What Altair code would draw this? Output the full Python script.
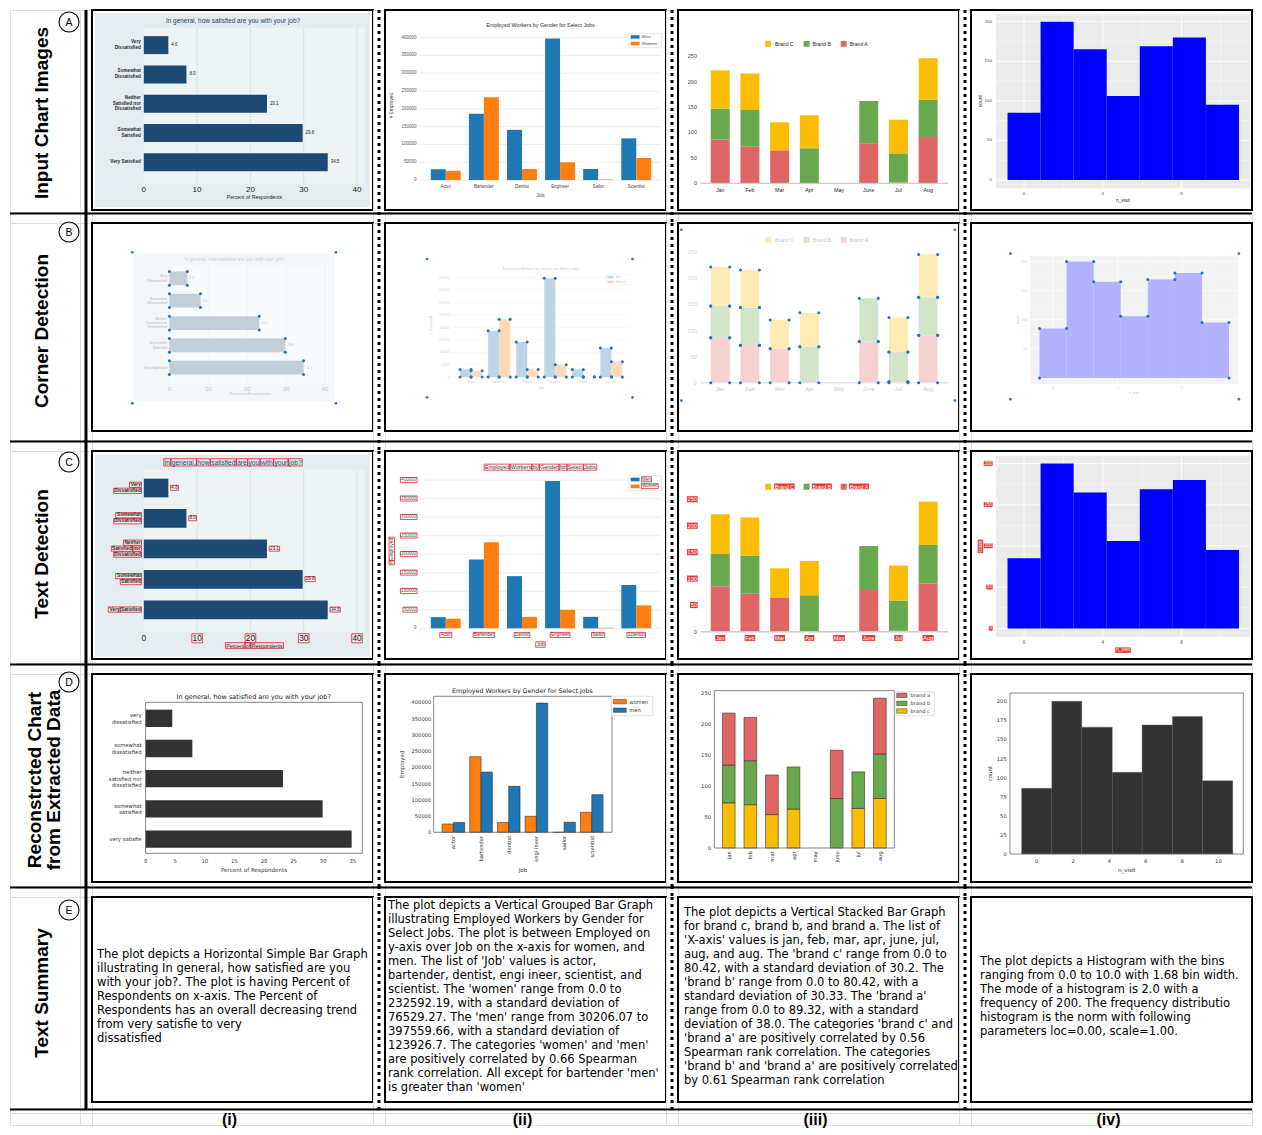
import altair as alt
import pandas as pd

# ====================== chart values ======================
SAT_TITLE = "In general, how satisfied are you with your job?"
SAT_CATS = ["Very\nDissatisfied", "Somewhat\nDissatisfied", "Neither\nSatisfied nor\nDissatisfied",
            "Somewhat\nSatisfied", "Very Satisfied"]
SAT_VALS = [4.6, 8.0, 23.1, 29.8, 34.5]
SAT_TICKS = [0, 10, 20, 30, 40]

JOB_TITLE = "Employed Workers by Gender for Select Jobs"
JOBS = ["Actor", "Bartender", "Dentist", "Engineer", "Sailor", "Scientist"]
JOB_MEN = [30206, 186000, 141000, 397560, 31000, 117000]
JOB_WOMEN = [26000, 232592, 31000, 50000, 1500, 62000]
JOB_TICKS = [0, 50000, 100000, 150000, 200000, 250000, 300000, 350000, 400000]
JOB_SERIES = ["Men", "Women"]

MONTHS = ["Jan", "Feb", "Mar", "Apr", "May", "June", "Jul", "Aug"]
BRAND_A = [86, 72, 65, 0, 0, 79, 2, 91]
BRAND_B = [61, 72, 0, 69, 0, 83, 57, 73]
BRAND_C = [75, 72, 55, 65, 0, 0, 66, 82]
BRAND_TICKS = [0, 50, 100, 150, 200, 250]
BRAND_NAMES = ["Brand C", "Brand B", "Brand A"]

HIST_EDGES = [-0.84, 0.84, 2.52, 4.20, 5.88, 7.56, 9.24, 10.92]
HIST_COUNTS = [85, 200, 165, 106, 169, 180, 95]
HIST_XTICKS = [0, 4, 8]
HIST_XMINOR = [2, 6, 10]
HIST_YTICKS = [0, 50, 100, 150, 200]
HIST_YMINOR = [25, 75, 125, 175]

REC_SAT_CATS = ["very\ndissatisfied", "somewhat\ndissatisfied", "neither\nsatisfied nor\ndissatisfied",
                "somewhat\nsatisfied", "very satisfie"]
REC_SAT_VALS = [4.5, 7.9, 23.2, 29.9, 34.8]
REC_SAT_TICKS = [0, 5, 10, 15, 20, 25, 30, 35]

REC_JOBS = ["actor", "bartender", "dentist", "engi ineer", "sailor", "scientist"]
REC_WOMEN = [25500, 232592, 30000, 49200, 0, 61500]
REC_MEN = [30206, 185500, 141500, 397560, 31000, 115700]
REC_JOB_SERIES = ["women", "men"]

REC_MONTHS = ["jan", "feb", "mar", "apr", "may", "june", "jul", "aug"]
REC_A = [84, 70, 64, 0, 0, 78, 0, 90]
REC_B = [61, 71, 0, 68, 0, 80, 59, 72]
REC_C = [73, 70, 54, 63, 0, 0, 64, 80]
REC_BRAND_NAMES = ["brand a", "brand b", "brand c"]

REC_EDGES = [-0.83, 0.83, 2.48, 4.16, 5.80, 7.47, 9.12, 10.79]
REC_COUNTS = [86, 200, 166, 107, 169, 180, 96]
REC_HIST_XTICKS = [0, 2, 4, 6, 8, 10]
REC_HIST_YTICKS = [0, 25, 50, 75, 100, 125, 150, 175, 200]

SUM_I = ["The plot depicts a Horizontal Simple Bar Graph",
         "illustrating In general, how satisfied are you",
         "with your job?. The plot is having Percent of",
         "Respondents on x-axis. The Percent of",
         "Respondents has an overall decreasing trend",
         "from very satisfie to very",
         "dissatisfied"]
SUM_II = ["The plot depicts a Vertical Grouped Bar Graph",
          "illustrating Employed Workers by Gender for",
          "Select Jobs. The plot is between Employed on",
          "y-axis over Job on the x-axis for women, and",
          "men. The list of 'Job' values is actor,",
          "bartender, dentist, engi ineer, scientist, and",
          "scientist. The 'women' range from 0.0 to",
          "232592.19, with a standard deviation of",
          "76529.27. The 'men' range from 30206.07 to",
          "397559.66, with a standard deviation of",
          "123926.7. The categories 'women' and 'men'",
          "are positively correlated by 0.66 Spearman",
          "rank correlation. All except for bartender 'men'",
          "is greater than 'women'"]
SUM_III = ["The plot depicts a Vertical Stacked Bar Graph",
           "for brand c, brand b, and brand a. The list of",
           "'X-axis' values is jan, feb, mar, apr, june, jul,",
           "aug, and aug. The 'brand c' range from 0.0 to",
           "80.42, with a standard deviation of 30.2. The",
           "'brand b' range from 0.0 to 80.42, with a",
           "standard deviation of 30.33. The 'brand a'",
           "range from 0.0 to 89.32, with a standard",
           "deviation of 38.0. The categories 'brand c' and",
           "'brand a' are positively correlated by 0.56",
           "Spearman rank correlation. The categories",
           "'brand b' and 'brand a' are positively correlated",
           "by 0.61 Spearman rank correlation"]
SUM_IV = ["The plot depicts a Histogram with the bins",
          "ranging from 0.0 to 10.0 with 1.68 bin width.",
          "The mode of a histogram is 2.0 with a",
          "frequency of 200. The frequency distributio",
          "histogram is the norm with following",
          "parameters loc=0.00, scale=1.00."]

ROW_LABELS = ["Input Chart Images", "Corner Detection", "Text Detection",
              "Reconstrcted Chart\nfrom Extracted Data", "Text Summary"]
ROW_LETTERS = ["A", "B", "C", "D", "E"]
COL_LABELS = ["(i)", "(ii)", "(iii)", "(iv)"]

# ====================== layout / style ======================
FONT = "Liberation Sans, Arial, Helvetica, sans-serif"
MPL = "DejaVu Sans, Verdana, sans-serif"
NARROW = "Liberation Sans Narrow, Arial Narrow, Liberation Sans, sans-serif"

W = 281
PANEL_H = [200, 208, 208, 208, 205]
ROW_H = [202, 217, 212, 212, 211]
LABEL_CY = [103, 108, 103, 106, 96]
CIRCLE_Y = [12, 9, 11, 8, 13]
HL = 11
HL_LAST = 5
LABEL_W = 70
SEP_W = 12

CW = {' ': .278, '.': .278, ',': .278, '?': .556, '#': .556, '_': .556, "'": .191,
      'a': .556, 'b': .556, 'c': .5, 'd': .556, 'e': .556, 'f': .278, 'g': .556, 'h': .556,
      'i': .222, 'j': .222, 'k': .5, 'l': .222, 'm': .833, 'n': .556, 'o': .556, 'p': .556,
      'q': .556, 'r': .333, 's': .5, 't': .278, 'u': .556, 'v': .5, 'w': .722, 'x': .5,
      'y': .5, 'z': .5, 'A': .667, 'B': .667, 'C': .722, 'D': .722, 'E': .667, 'F': .611,
      'G': .778, 'H': .722, 'I': .278, 'J': .5, 'K': .667, 'L': .556, 'M': .833, 'N': .722,
      'O': .778, 'P': .667, 'Q': .778, 'R': .722, 'S': .667, 'T': .611, 'U': .722, 'V': .667,
      'W': .944, 'X': .667, 'Y': .667, 'Z': .611}


def text_w(s, fs, bold=False):
    t = 0.0
    for ch in s:
        t += 0.556 if ch.isdigit() else CW.get(ch, 0.556)
    return t * fs * (1.08 if bold else 1.0)


def fade(col, f=0.72):
    col = col.lstrip('#')
    rgb = [int(col[i:i + 2], 16) for i in (0, 2, 4)]
    return '#%02x%02x%02x' % tuple(int(round(c + (255 - c) * f)) for c in rgb)


def box_path(it):
    fs, bold = it['fs'], it['bold']
    lines = it['text'].split('\n')
    lh = it['lh'] or fs * 1.2
    spw = text_w(' ', fs, bold)
    parts = []
    for j, line in enumerate(lines):
        cy = j * lh
        lw = text_w(line, fs, bold)
        pos = {'left': 0.0, 'center': -lw / 2.0, 'right': -lw}[it['align']]
        for word in line.split(' '):
            ww = text_w(word, fs, bold)
            a0, a1 = pos - 0.7, pos + ww + 0.7
            b0, b1 = cy - fs * 0.6, cy + fs * 0.5
            if it['angle'] == 270:
                x0, x1, y0, y1 = b0, b1, -a1, -a0
            else:
                x0, x1, y0, y1 = a0, a1, b0, b1
            parts.append("M%.2f,%.2fH%.2fV%.2fH%.2fZ" % (x0, y0, x1, y1, x0))
            pos += ww + spw
    return "".join(parts)


class Lin:
    def __init__(self, d0, d1, r0, r1):
        self.d0, self.d1, self.r0, self.r1 = float(d0), float(d1), float(r0), float(r1)

    def px(self, d):
        return self.r0 + (d - self.d0) * (self.r1 - self.r0) / (self.d1 - self.d0)

    def dat(self, p):
        return self.d0 + (p - self.r0) * (self.d1 - self.d0) / (self.r1 - self.r0)

    def scale(self):
        return alt.Scale(domain=[self.d0, self.d1], range=[round(self.r0, 2), round(self.r1, 2)],
                         nice=False, zero=False)


class Panel:
    def __init__(self, xs, ys, H, mode):
        self.xs, self.ys, self.H, self.mode = xs, ys, H, mode
        self.fd = mode == 'B'
        self.boxing = mode == 'C'
        self.box_fill = None
        self.layers, self.items = [], []

    def c(self, col, f=0.72):
        return fade(col, f) if self.fd else col

    def enc(self, xa=None, ya=None, x2=False, y2=False):
        e = {'x': alt.X('x:Q', scale=self.xs.scale(), axis=xa),
             'y': alt.Y('y:Q', scale=self.ys.scale(), axis=ya)}
        if x2:
            e['x2'] = alt.X2('x2')
        if y2:
            e['y2'] = alt.Y2('y2')
        return e

    def rect(self, x, x2, y, y2, color, **kw):
        df = pd.DataFrame({'x': x, 'x2': x2, 'y': y, 'y2': y2})
        self.layers.append(alt.Chart(df).mark_rect(color=color, **kw).encode(**self.enc(x2=True, y2=True)))

    def prect(self, px0, px1, py0, py1, color, **kw):
        self.rect([self.xs.dat(px0)], [self.xs.dat(px1)], [self.ys.dat(py0)], [self.ys.dat(py1)], color, **kw)

    def rule(self, x, x2, y, y2, color, sw, **kw):
        df = pd.DataFrame({'x': x, 'x2': x2, 'y': y, 'y2': y2})
        self.layers.append(alt.Chart(df).mark_rule(color=color, strokeWidth=sw, **kw)
                           .encode(**self.enc(x2=True, y2=True)))

    def axes(self, xaxis=None, yaxis=None):
        df = pd.DataFrame({'x': [self.xs.d0], 'y': [self.ys.d0]})
        xa = alt.Axis(labels=False, title=None, grid=False, **xaxis) if xaxis else None
        ya = alt.Axis(labels=False, title=None, grid=False, **yaxis) if yaxis else None
        self.layers.append(alt.Chart(df).mark_point(opacity=0, size=1).encode(**self.enc(xa, ya)))

    def dots(self, pts, size=9):
        df = pd.DataFrame({'x': [p[0] for p in pts], 'y': [p[1] for p in pts]})
        self.layers.append(alt.Chart(df).mark_point(filled=True, color='#1f77b4', size=size, opacity=1)
                           .encode(**self.enc()))

    def pdots(self, pts, size=9):
        self.dots([(self.xs.dat(a), self.ys.dat(b)) for a, b in pts], size)

    def item(self, text, px, py, fs, align='center', color='#222222', bold=False, angle=0, lh=None,
             box=True, font=FONT):
        n = text.count('\n') + 1
        if n > 1:
            L = lh or fs * 1.2
            if angle == 270:
                px -= (n - 1) / 2.0 * L
            else:
                py -= (n - 1) / 2.0 * L
        self.items.append(dict(text=text, px=px, py=py, fs=fs, align=align, color=self.c(color, 0.75),
                               bold=bold, angle=angle, lh=lh, box=box and self.boxing, font=font))

    def finish(self):
        boxed = [it for it in self.items if it['box']]
        if boxed:
            df = pd.DataFrame({'x': [self.xs.dat(it['px']) for it in boxed],
                               'y': [self.ys.dat(it['py']) for it in boxed],
                               'path': [box_path(it) for it in boxed]})
            if self.box_fill:
                mk = alt.Chart(df).mark_point(filled=True, color=self.box_fill, size=4, opacity=1, strokeWidth=0)
            else:
                mk = alt.Chart(df).mark_point(filled=False, color='#e8141c', size=4, opacity=1, strokeWidth=0.75)
            self.layers.append(mk.encode(**self.enc(), shape=alt.Shape('path:N', scale=None)))
        groups = {}
        for it in self.items:
            key = (it['align'], it['bold'], it['lh'], it['font'])
            col = '#ffffff' if (it['box'] and self.box_fill) else it['color']
            groups.setdefault(key, []).append({'x': self.xs.dat(it['px']), 'y': self.ys.dat(it['py']),
                                               'text': it['text'], 'fs': round(it['fs'], 2),
                                               'col': col, 'ang': it['angle']})
        for (al, bold, lh, font), rows in groups.items():
            kw = dict(align=al, baseline='middle', font=font, lineBreak='\n')
            if bold:
                kw['fontWeight'] = 'bold'
            if lh:
                kw['lineHeight'] = round(lh, 2)
            self.layers.append(alt.Chart(pd.DataFrame(rows)).mark_text(**kw).encode(
                **self.enc(), text='text:N', size=alt.Size('fs:Q', scale=None),
                color=alt.Color('col:N', scale=None), angle=alt.Angle('ang:Q', scale=None)))

    def chart(self):
        self.finish()
        return alt.layer(*self.layers).properties(
            width=W, height=self.H, view=alt.ViewBackground(fill='white', stroke='black', strokeWidth=2))


def geom(tf):
    sx, sy, ox, oy = tf
    return (lambda u: ox + sx * u), (lambda v: oy + sy * v), min(sx, sy)


def corner_dots(p, X, Y, corners):
    if corners is None:
        corners = [(X(1), Y(1)), (X(281), Y(1)), (X(1), Y(204)), (X(281), Y(204))]
    p.pdots(corners, 7)


# ---------------- chart (i): horizontal bars ----------------
def chart_sat(mode, tf, H, corners=None):
    X, Y, k = geom(tf)
    xs = Lin(0, 41.5, X(52), X(274))
    ys = Lin(-0.6, 4.733, Y(18), Y(178))
    p = Panel(xs, ys, H, mode)
    p.prect(X(3), X(279), Y(3), Y(202), p.c('#e4ecf0', 0.6))
    p.rect([0], [41.5], [-0.6], [4.733], p.c('#eef3f6', 0.6))
    g = SAT_TICKS[1:]
    p.rule(g, g, [-0.6] * len(g), [4.733] * len(g), p.c('#d3dde4', 0.6), 0.7)
    n = len(SAT_VALS)
    idx = list(range(n))
    hb = 0.307
    p.rect([0] * n, SAT_VALS, [i - hb for i in idx], [i + hb for i in idx], p.c('#1d4a73', 0.73))
    ax = p.c('#8796a3', 0.6)
    p.axes(xaxis=dict(orient='bottom', offset=round(Y(178) - H, 2), values=SAT_TICKS,
                      tickSize=round(2.2 * k, 2), tickColor=ax, domainColor=ax, domainWidth=0.8, tickWidth=0.8),
           yaxis=dict(orient='left', offset=round(-X(52), 2), ticks=False, domainColor=ax, domainWidth=0.8))
    p.item(SAT_TITLE, X(141.5), Y(11), 6.6 * k, color='#1f3f66')
    for i, (lab, v) in enumerate(zip(SAT_CATS, SAT_VALS)):
        p.item(lab, X(49), ys.px(i), 4.8 * k, align='right', bold=True, lh=6 * k, color='#2a2a2a')
        p.item("%.1f" % v, xs.px(v) + 3 * k, ys.px(i), 4.6 * k, align='left', color='#222222')
    for t in SAT_TICKS:
        p.item(str(t), xs.px(t), Y(184.5), 8.3 * k, color='#222222', box=t != 0)
    p.item("Percent of Respondents", X(163), Y(191.5), 5.3 * k, color='#222222')
    if p.fd:
        pts = []
        for i, v in enumerate(SAT_VALS):
            for xx in (0, v):
                for yy in (i - hb, i + hb):
                    pts.append((xx, yy))
        p.dots(pts)
        corner_dots(p, X, Y, corners)
    return p.chart()


# ---------------- chart (ii): grouped bars ----------------
def chart_grp(mode, tf, H, corners=None):
    X, Y, k = geom(tf)
    xs = Lin(-0.68, 5.65, X(35), X(277))
    ys = Lin(0, 420000, Y(174.3), Y(20.95))
    p = Panel(xs, ys, H, mode)
    nt = len(JOB_TICKS)
    p.rule([-0.68] * nt, [5.65] * nt, JOB_TICKS, JOB_TICKS, p.c('#e6e6e6', 0.6), 0.7)
    n = len(JOBS)
    idx = list(range(n))
    bw = 0.393
    cols = ['#1f77b4', '#ff7f0e']
    p.rect([i - bw for i in idx], idx, [0] * n, JOB_MEN, p.c(cols[0], 0.7))
    p.rect(idx, [i + bw for i in idx], [0] * n, JOB_WOMEN, p.c(cols[1], 0.7))
    p.item(JOB_TITLE, X(156), Y(15.7), 5.5 * k, color='#333333')
    for t in JOB_TICKS:
        p.item(str(t), X(31.5), ys.px(t), 4.6 * k, align='right', color='#555555', box=t != 0)
    for i, j in enumerate(JOBS):
        p.item(j, xs.px(i), Y(181), 4.6 * k, color='#444444')
    p.item('Job', X(156), Y(190.5), 5 * k, color='#444444')
    p.item('# Employed', X(7), Y(98), 5 * k, color='#444444', angle=270)
    p.prect(X(244), X(277.5), Y(24), Y(38.5), '#ffffff', stroke=p.c('#d5d5d5', 0.6), strokeWidth=0.5)
    for s, (name, col) in enumerate(zip(JOB_SERIES, cols)):
        vy = 27.6 + s * 6.8
        p.prect(X(246.5), X(255.5), Y(vy - 1.8), Y(vy + 1.8), p.c(col, 0.7))
        p.item(name, X(258), Y(vy), 4.5 * k, align='left', color='#444444')
    if p.fd:
        pts = []
        for i in idx:
            for x0, x1, v in ((i - bw, i, JOB_MEN[i]), (i, i + bw, JOB_WOMEN[i])):
                pts += [(x0, 0), (x1, 0), (x0, v), (x1, v)]
        p.dots(pts)
        corner_dots(p, X, Y, corners)
    return p.chart()


# ---------------- chart (iii): stacked bars ----------------
def chart_stk(mode, tf, H, corners=None):
    X, Y, k = geom(tf)
    xs = Lin(-0.65, 7.67, X(23), X(271))
    ys = Lin(0, 260, Y(177.7), Y(177.7 - 260 * 0.5216))
    p = Panel(xs, ys, H, mode)
    p.box_fill = '#e53935'
    n = len(MONTHS)
    hw = 0.319
    series = [(BRAND_A, '#e06666'), (BRAND_B, '#6aa84f'), (BRAND_C, '#fbbc04')]
    base = [0] * n
    pts = []
    for vals, col in series:
        xi = [i for i in range(n) if vals[i] > 0]
        p.rect([i - hw for i in xi], [i + hw for i in xi], [base[i] for i in xi],
               [base[i] + vals[i] for i in xi], p.c(col, 0.7))
        for i in xi:
            pts += [(i - hw, base[i]), (i + hw, base[i]), (i - hw, base[i] + vals[i]), (i + hw, base[i] + vals[i])]
        base = [base[i] + vals[i] for i in range(n)]
    p.rule([-0.65], [7.67], [0], [0], p.c('#cccccc', 0.5), 1.5 * k)
    for t in BRAND_TICKS:
        p.item(str(t), X(19), ys.px(t), 5.6 * k, align='right', color='#444444', box=t != 0)
    for i, m in enumerate(MONTHS):
        p.item(m, xs.px(i), Y(184), 5.4 * k, color='#222222')
    leg_cols = ['#fbbc04', '#6aa84f', '#e06666']
    sym_u = [90.5, 129, 166.3]
    lab_u = [97.3, 135, 172.3]
    for s, (name, col) in enumerate(zip(BRAND_NAMES, leg_cols)):
        p.prect(X(sym_u[s] - 3), X(sym_u[s] + 3), Y(31.7), Y(37.7), p.c(col, 0.7))
        p.item(name, X(lab_u[s]), Y(34.7), 5.2 * k, align='left', color='#222222')
    if p.fd:
        p.dots(pts)
        corner_dots(p, X, Y, corners)
    return p.chart()


# ---------------- chart (iv): histogram ----------------
def chart_hist(mode, tf, H, corners=None):
    X, Y, k = geom(tf)
    xs = Lin(-1.43, 11.48, X(25), X(280))
    ys = Lin(-10.3, 209.4, Y(182.7), Y(4.3))
    p = Panel(xs, ys, H, mode)
    p.box_fill = '#e53935'
    p.rect([-1.43], [11.48], [-10.3], [209.4], '#f3f3f3' if p.fd else '#ebebeb')
    p.rule(HIST_XMINOR, HIST_XMINOR, [-10.3] * 3, [209.4] * 3, '#ffffff', 0.45 * k)
    p.rule([-1.43] * 4, [11.48] * 4, HIST_YMINOR, HIST_YMINOR, '#ffffff', 0.45 * k)
    p.rule(HIST_XTICKS, HIST_XTICKS, [-10.3] * 3, [209.4] * 3, '#ffffff', 0.9 * k)
    p.rule([-1.43] * 5, [11.48] * 5, HIST_YTICKS, HIST_YTICKS, '#ffffff', 0.9 * k)
    nb = len(HIST_COUNTS)
    p.rect(HIST_EDGES[:-1], HIST_EDGES[1:], [0] * nb, HIST_COUNTS, p.c('#0000ff', 0.7))
    tc = p.c('#333333', 0.7)
    p.axes(xaxis=dict(orient='bottom', offset=round(Y(182.7) - H, 2), values=HIST_XTICKS,
                      tickSize=round(2.2 * k, 2), tickColor=tc, tickWidth=0.6, domain=False),
           yaxis=dict(orient='left', offset=round(-X(25), 2), values=HIST_YTICKS,
                      tickSize=round(2.2 * k, 2), tickColor=tc, tickWidth=0.6, domain=False))
    for t in HIST_YTICKS:
        p.item(str(t), X(21), ys.px(t), 4.5 * k, align='right', color='#4d4d4d')
    for t in HIST_XTICKS:
        p.item(str(t), xs.px(t), Y(188.3), 4.5 * k, color='#4d4d4d', box=False)
    p.item('count', X(9.7), Y(93.5), 5 * k, color='#222222', angle=270)
    p.item('n_visit', X(152.5), Y(196), 5 * k, color='#222222')
    if p.fd:
        pts = [(HIST_EDGES[0], 0), (HIST_EDGES[-1], 0)]
        for i, cnt in enumerate(HIST_COUNTS):
            pts += [(HIST_EDGES[i], cnt), (HIST_EDGES[i + 1], cnt)]
        p.dots(pts)
        corner_dots(p, X, Y, corners)
    return p.chart()


# ---------------- row D: reconstructed (matplotlib look) ----------------
def rec_sat(H):
    xs = Lin(0, 36.6, 53.6, 270.3)
    ys = Lin(-0.53, 4.47, 28.3, 179.3)
    p = Panel(xs, ys, H, 'D')
    n = len(REC_SAT_VALS)
    idx = list(range(n))
    hb = 0.287
    p.rect([0] * n, REC_SAT_VALS, [i - hb for i in idx], [i + hb for i in idx], '#333333')
    p.rect([0], [36.6], [-0.53], [4.47], '#666666', filled=False, strokeWidth=0.8)
    p.axes(xaxis=dict(orient='bottom', offset=round(179.3 - H, 2), values=REC_SAT_TICKS, tickSize=2.4,
                      tickColor='#444444', tickWidth=0.6, domain=False),
           yaxis=dict(orient='left', offset=-53.6, values=idx, tickSize=2.4, tickColor='#444444',
                      tickWidth=0.6, domain=False))
    p.item(SAT_TITLE, 161.7, 23.3, 6.5, color='#222222', font=MPL)
    for i, lab in enumerate(REC_SAT_CATS):
        p.item(lab, 49.6, ys.px(i), 5.3, align='right', lh=6.6, color='#333333', font=MPL)
    for t in REC_SAT_TICKS:
        p.item(str(t), xs.px(t), 187.3, 5.3, color='#333333', font=MPL)
    p.item('Percent of Respondents', 162, 196.3, 5.6, color='#333333', font=MPL)
    return p.chart()


def rec_grp(H):
    xs = Lin(-0.71, 5.73, 48.7, 227)
    ys = Lin(0, 418460, 158.3, 22.3)
    p = Panel(xs, ys, H, 'D')
    n = len(REC_JOBS)
    idx = list(range(n))
    bw = 0.408
    cols = ['#ff7f0e', '#1f77b4']
    p.rect([i - bw for i in idx], idx, [0] * n, REC_WOMEN, cols[0], stroke='#333333', strokeWidth=0.6)
    p.rect(idx, [i + bw for i in idx], [0] * n, REC_MEN, cols[1], stroke='#333333', strokeWidth=0.6)
    p.rect([-0.71], [5.73], [0], [418460], '#666666', filled=False, strokeWidth=0.8)
    p.axes(xaxis=dict(orient='bottom', offset=round(158.3 - H, 2), values=idx, tickSize=2.4,
                      tickColor='#444444', tickWidth=0.6, domain=False),
           yaxis=dict(orient='left', offset=-48.7, values=JOB_TICKS, tickSize=2.4, tickColor='#444444',
                      tickWidth=0.6, domain=False))
    p.item(JOB_TITLE, 137.5, 16.7, 6.3, color='#222222', font=MPL)
    for t in JOB_TICKS:
        p.item(str(t), 46.3, ys.px(t), 5.2, align='right', color='#333333', font=MPL)
    for i, j in enumerate(REC_JOBS):
        p.item(j, xs.px(i), 161.8, 5.2, align='right', angle=270, color='#333333', font=MPL)
    p.item('Job', 137.9, 196.3, 5.5, color='#333333', font=MPL)
    p.item('Employed', 17, 90.3, 5.5, angle=270, color='#333333', font=MPL)
    p.prect(226.3, 267.7, 22.3, 41.7, '#ffffff', stroke='#cccccc', strokeWidth=0.6)
    for s, (name, col) in enumerate(zip(REC_JOB_SERIES, cols)):
        vy = 27.6 + s * 8.6
        p.prect(228.3, 241.3, vy - 2.2, vy + 2.2, col, stroke='#333333', strokeWidth=0.5)
        p.item(name, 244.2, vy, 5.2, align='left', color='#333333', font=MPL)
    return p.chart()


def rec_stk(H):
    xs = Lin(-0.67, 7.67, 36.3, 216.3)
    ys = Lin(0, 254.2, 174, 16.7)
    p = Panel(xs, ys, H, 'D')
    n = len(REC_MONTHS)
    hw = 0.294
    series = [(REC_C, '#fbbc04'), (REC_B, '#6aa84f'), (REC_A, '#e06666')]
    base = [0] * n
    for vals, col in series:
        xi = [i for i in range(n) if vals[i] > 0]
        p.rect([i - hw for i in xi], [i + hw for i in xi], [base[i] for i in xi],
               [base[i] + vals[i] for i in xi], col, stroke='#333333', strokeWidth=0.6)
        base = [base[i] + vals[i] for i in range(n)]
    p.rect([-0.67], [7.67], [0], [254.2], '#666666', filled=False, strokeWidth=0.8)
    p.axes(xaxis=dict(orient='bottom', offset=round(174 - H, 2), values=list(range(n)), tickSize=2.4,
                      tickColor='#444444', tickWidth=0.6, domain=False),
           yaxis=dict(orient='left', offset=-36.3, values=BRAND_TICKS, tickSize=2.4, tickColor='#444444',
                      tickWidth=0.6, domain=False))
    for t in BRAND_TICKS:
        p.item(str(t), 33, ys.px(t), 5.2, align='right', color='#333333', font=MPL)
    for i, m in enumerate(REC_MONTHS):
        p.item(m, xs.px(i), 177.3, 5.2, align='right', angle=270, color='#333333', font=MPL)
    p.prect(217, 256.3, 17.7, 41.7, '#ffffff', stroke='#cccccc', strokeWidth=0.6)
    leg_cols = ['#e06666', '#6aa84f', '#fbbc04']
    for s, (name, col) in enumerate(zip(REC_BRAND_NAMES, leg_cols)):
        vy = [21.3, 29.3, 37.0][s]
        p.prect(218.7, 229, vy - 2.2, vy + 2.2, col, stroke='#333333', strokeWidth=0.5)
        p.item(name, 232.5, vy, 5.1, align='left', color='#333333', font=MPL)
    return p.chart()


def rec_hist(H):
    xs = Lin(-1.47, 11.37, 39, 272.3)
    ys = Lin(0, 210.8, 180, 19)
    p = Panel(xs, ys, H, 'D')
    nb = len(REC_COUNTS)
    p.rect(REC_EDGES[:-1], REC_EDGES[1:], [0] * nb, REC_COUNTS, '#333333', stroke='#555555', strokeWidth=0.3)
    p.rect([-1.47], [11.37], [0], [210.8], '#666666', filled=False, strokeWidth=0.8)
    p.axes(xaxis=dict(orient='bottom', offset=round(180 - H, 2), values=REC_HIST_XTICKS, tickSize=2.4,
                      tickColor='#444444', tickWidth=0.6, domain=False),
           yaxis=dict(orient='left', offset=-39, values=REC_HIST_YTICKS, tickSize=2.4, tickColor='#444444',
                      tickWidth=0.6, domain=False))
    for t in REC_HIST_YTICKS:
        p.item(str(t), 35.7, ys.px(t), 5.2, align='right', color='#333333', font=MPL)
    for t in REC_HIST_XTICKS:
        p.item(str(t), xs.px(t), 187, 5.2, color='#333333', font=MPL)
    p.item('n_visit', 155.7, 196.3, 5.5, color='#333333', font=MPL)
    p.item('count', 19, 99.5, 5.5, angle=270, color='#333333', font=MPL)
    return p.chart()


# ---------------- row E: text summaries ----------------
def text_panel(lines, H, x0):
    lh = 14.0
    df = pd.DataFrame({'t': ["\n".join(lines)]})
    y0 = H / 2.0 - 3 - (len(lines) - 1) * lh / 2.0
    mk = alt.Chart(df).mark_text(align='left', baseline='middle', lineBreak='\n', font=MPL,
                                 fontSize=11.5, lineHeight=lh, color='black')
    return mk.encode(x=alt.value(x0), y=alt.value(round(y0, 2)), text='t:N').properties(
        width=W, height=H, view=alt.ViewBackground(fill='white', stroke='black', strokeWidth=2))


# ---------------- frame pieces ----------------
def blank(w, h):
    return alt.Chart(pd.DataFrame({'a': [0]})).mark_point(opacity=0, size=1).encode(
        x=alt.value(0), y=alt.value(0)).properties(width=w, height=h)


def label_chart(r):
    h = ROW_H[r]
    base = alt.Chart(pd.DataFrame({'t': [ROW_LABELS[r]]}))
    two = '\n' in ROW_LABELS[r]
    txt = base.mark_text(angle=270, align='center', baseline='middle', font=NARROW, fontWeight='bold',
                         fontSize=19, lineBreak='\n', lineHeight=19, color='black').encode(
        x=alt.value(25 if two else 32), y=alt.value(LABEL_CY[r]), text='t:N')
    circ = base.mark_point(shape='circle', size=400, filled=False, color='black', strokeWidth=1.1,
                           opacity=1).encode(x=alt.value(59), y=alt.value(CIRCLE_Y[r]))
    let = base.mark_text(fontSize=10.5, font=FONT, align='center', baseline='middle', color='black').encode(
        x=alt.value(59), y=alt.value(CIRCLE_Y[r] + 0.5), text=alt.value(ROW_LETTERS[r]))
    return alt.layer(txt, circ, let).properties(width=LABEL_W, height=h)


def vsep(h, dotted, ystop=None):
    base = alt.Chart(pd.DataFrame({'a': [0]}))
    if dotted:
        mk = base.mark_rule(color='black', strokeWidth=3, strokeDash=[3, 4])
    else:
        mk = base.mark_rule(color='black', strokeWidth=3)
    return mk.encode(x=alt.value(SEP_W / 2), y=alt.value(0), y2=alt.value(h if ystop is None else ystop))


def hpiece(w, h, kind, last):
    base = alt.Chart(pd.DataFrame({'a': [0]}))
    layers = [base.mark_rule(color='black', strokeWidth=2).encode(
        x=alt.value(0), x2=alt.value(w), y=alt.value(1.5))]
    if kind == 'dbl':
        layers.append(vsep(h, False, 1.5 if last else h))
    elif kind == 'dot':
        layers.append(vsep(h, True, 1.5 if last else h))
    return alt.layer(*layers).properties(width=w, height=h)


def sep_cell(h, dotted):
    return vsep(h, dotted).properties(width=SEP_W, height=h)


def col_label(lab):
    base = alt.Chart(pd.DataFrame({'a': [0]}))
    return base.mark_text(fontSize=16, fontWeight='bold', font=FONT, align='center', baseline='middle',
                          color='black').encode(x=alt.value(W / 2 - 3), y=alt.value(7),
                                                text=alt.value(lab)).properties(width=W, height=12)


# ---------------- assemble ----------------
HA, HB, HC, HD, HE = PANEL_H
TF_A = (W / 282, HA / 205, 0, 0)
TF_C = (W / 282, HC / 205, 0, 0.5)
TF_B = {'sat': (0.727, 0.744, 39.6, 28.6), 'grp': (0.734, 0.681, 41.3, 35.4),
        'stk': (0.9965, 1.0, 0, -18), 'hist': (0.816, 0.717, 38.6, 29.9)}

row_a = [chart_sat('A', TF_A, HA), chart_grp('A', TF_A, HA), chart_stk('A', TF_A, HA), chart_hist('A', TF_A, HA)]
row_b = [chart_sat('B', TF_B['sat'], HB), chart_grp('B', TF_B['grp'], HB),
         chart_stk('B', TF_B['stk'], HB, corners=[(3.4, 6.8), (276.8, 6.8), (3.4, 177.6), (276.8, 177.6)]),
         chart_hist('B', TF_B['hist'], HB)]
row_c = [chart_sat('C', TF_C, HC), chart_grp('C', TF_C, HC), chart_stk('C', TF_C, HC), chart_hist('C', TF_C, HC)]
row_d = [rec_sat(HD), rec_grp(HD), rec_stk(HD), rec_hist(HD)]
row_e = [text_panel(SUM_I, HE, 5), text_panel(SUM_II, HE, 3), text_panel(SUM_III, HE, 6), text_panel(SUM_IV, HE, 9)]

cells = []
for r, pan in enumerate([row_a, row_b, row_c, row_d, row_e]):
    h = ROW_H[r]
    cells += [label_chart(r), sep_cell(h, False)]
    for j, pnl in enumerate(pan):
        if j > 0:
            cells.append(sep_cell(h, True))
        cells.append(pnl)
    last = r == 4
    hh = HL_LAST if last else HL
    cells += [hpiece(LABEL_W, hh, 'none', last), hpiece(SEP_W, hh, 'dbl', last)]
    for j in range(4):
        if j > 0:
            cells.append(hpiece(SEP_W, hh, 'dot', last))
        cells.append(hpiece(W, hh, 'none', last))
cells += [blank(LABEL_W, 12), blank(SEP_W, 12)]
for j, lab in enumerate(COL_LABELS):
    if j > 0:
        cells.append(blank(SEP_W, 12))
    cells.append(col_label(lab))

chart = alt.concat(*cells, columns=9, spacing=0, bounds='flush', align='each').properties(
    padding=0).configure_view(stroke='transparent').configure(font=FONT)

chart.save("out.html", embed_options={"renderer": "svg", "actions": False})
